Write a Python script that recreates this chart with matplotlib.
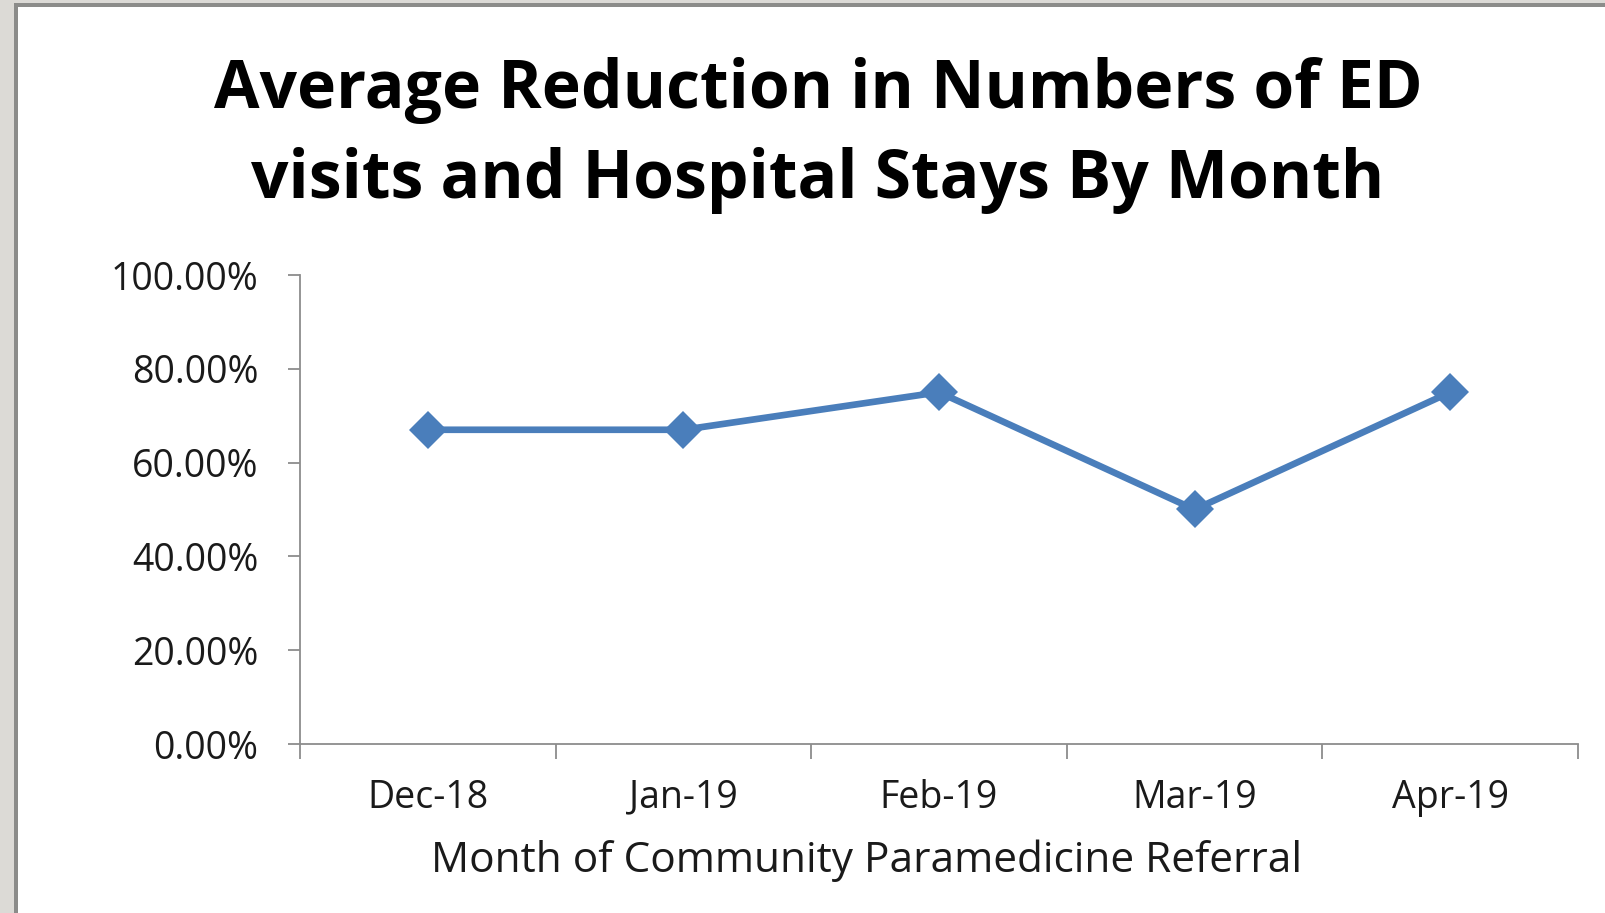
import numpy as np
import matplotlib.pyplot as plt
from matplotlib.patches import Rectangle
from matplotlib.ticker import FixedLocator, FuncFormatter

# data
months = ['Dec-18', 'Jan-19', 'Feb-19', 'Mar-19', 'Apr-19']
reduction = [0.67, 0.67, 0.75, 0.50, 0.75]
yticks = [0.0, 0.2, 0.4, 0.6, 0.8, 1.0]

title1 = 'Average Reduction in Numbers of ED'
title2 = 'visits and Hospital Stays By Month'
xlabel = 'Month of Community Paramedicine Referral'

W, H = 1606, 913
plt.rcParams['font.family'] = ['Open Sans', 'DejaVu Sans']

fig = plt.figure(figsize=(W / 100, H / 100), dpi=100)
fig.patch.set_facecolor('white')

# screenshot frame on the left and top edges
def frame(x0, y0, w, h, col):
  fig.patches.append(Rectangle((x0 / W, 1 - (y0 + h) / H), w / W, h / H,
                               transform=fig.transFigure, facecolor=col,
                               edgecolor='none', zorder=0))
frame(0, 0, 14, H, '#dcdad6')
frame(0, 0, W, 3, '#dcdad6')
frame(14, 3, 4, H, '#8c8c8a')
frame(14, 3, W, 4, '#8c8c8a')

# axes box in pixel terms: x 300..1578, y(0%) 744, y(100%) 275 from top
ax = fig.add_axes([300 / W, (H - 744) / H, 1278 / W, (744 - 275) / H])
ax.set_facecolor('none')

x = np.arange(len(months)) + 0.5
ax.plot(x, reduction, color='#4a7ebb', linewidth=4.8, marker='D',
        markersize=19, markeredgewidth=0, solid_joinstyle='round', clip_on=False)

ax.set_xlim(0, len(months))
ax.set_ylim(0, 1)

axis_col = '#8c8c8c'
txt_col = '#1a1a1a'
for s in ['top', 'right']:
  ax.spines[s].set_visible(False)
for s in ['left', 'bottom']:
  ax.spines[s].set_color(axis_col)
  ax.spines[s].set_linewidth(1.3)

ax.set_yticks(yticks)
ax.yaxis.set_major_formatter(FuncFormatter(lambda v, p: '%.2f%%' % (v * 100)))
ax.tick_params(axis='y', direction='out', length=9, width=1.3, color=axis_col,
               labelsize=27, labelcolor=txt_col, pad=21)

ax.xaxis.set_major_locator(FixedLocator(np.arange(len(months) + 1)))
ax.xaxis.set_minor_locator(FixedLocator(x))
ax.set_xticklabels([], minor=False)
ax.set_xticklabels(months, minor=True)
ax.tick_params(axis='x', which='major', direction='out', length=11, width=1.3,
               color=axis_col)
ax.tick_params(axis='x', which='minor', length=0, labelsize=27,
               labelcolor=txt_col, pad=25)

# x axis title, baseline at y=872 px, centred at x=867 px
fig.text(867 / W, 1 - 872 / H, xlabel, ha='center', va='baseline',
         fontsize=30.5, color=txt_col)

fig.text(818 / W, 1 - 108 / H, title1, ha='center', va='baseline',
         fontsize=47.5, fontweight='bold', color='black')
fig.text(818 / W, 1 - 198 / H, title2, ha='center', va='baseline',
         fontsize=47.5, fontweight='bold', color='black')

fig.savefig('out.png', dpi=100, facecolor=fig.get_facecolor())
